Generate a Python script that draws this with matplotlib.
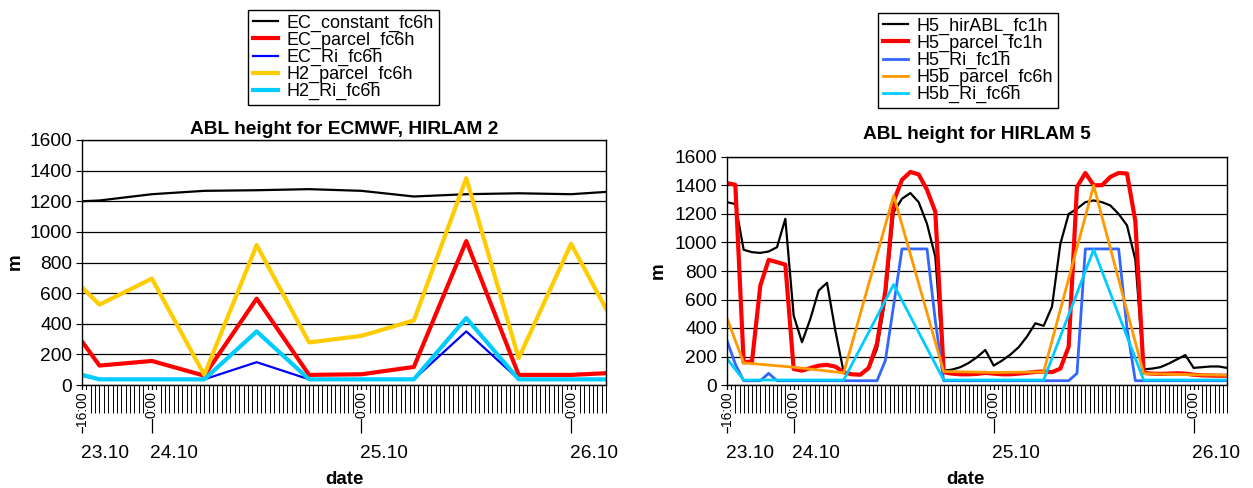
import numpy as np
import matplotlib
matplotlib.use("Agg")
import matplotlib.pyplot as plt

plt.rcParams['font.family'] = ['Liberation Sans', 'DejaVu Sans']

# time axis: hours counted from 23.10 00:00
t6 = [16, 18, 24, 30, 36, 42, 48, 54, 60, 66, 72, 76]
t1 = list(range(16, 77))
major_t = [16, 24, 48, 72]
major_lab = ['16:00', '0:00', '0:00', '0:00']
date_lab = ['23.10', '24.10', '25.10', '26.10']

# left panel: ECMWF and HIRLAM 2 (6 hourly)
ec_constant = [1200, 1205, 1246, 1268, 1272, 1279, 1268, 1231, 1246, 1252, 1246, 1261]
ec_parcel = [284, 127, 157, 61, 564, 66, 70, 118, 940, 66, 66, 77]
ec_ri = [60, 37, 37, 37, 149, 37, 37, 37, 350, 37, 37, 37]
h2_parcel = [638, 525, 695, 66, 914, 278, 321, 422, 1351, 175, 922, 498]
h2_ri = [66, 37, 37, 37, 350, 37, 37, 37, 437, 37, 37, 37]

# right panel: HIRLAM 5 (hourly) and HIRLAM 5b (6 hourly)
h5_hirabl = [1283, 1270, 949, 932, 927, 937, 967, 1166, 487, 300,
             464, 663, 717, 382, 89, 73, 73, 112, 253, 604,
             1213, 1307, 1347, 1283, 1131, 900, 100, 108, 125, 155,
             195, 246, 136, 171, 213, 265, 340, 433, 415, 550,
             990, 1200, 1237, 1283, 1295, 1283, 1260, 1200, 1120, 880,
             110, 115, 125, 150, 180, 210, 120, 125, 130, 130, 120]
h5_parcel = [1417, 1405, 159, 166, 698, 878, 862, 845, 112, 101,
             119, 136, 141, 129, 89, 75, 72, 120, 290, 660,
             1290, 1440, 1495, 1478, 1370, 1215, 90, 80, 75, 75,
             78, 85, 80, 75, 75, 80, 85, 92, 95, 90,
             115, 269, 1390, 1488, 1402, 1402, 1460, 1488, 1484, 1150,
             85, 80, 78, 80, 82, 80, 72, 68, 66, 65, 65]
h5_ri = [311, 147, 30, 30, 30, 82, 30, 30, 30, 30,
         30, 30, 30, 30, 30, 30, 30, 30, 30, 171,
         560, 955, 955, 955, 955, 450, 30, 30, 30, 30,
         30, 30, 30, 30, 30, 30, 30, 30, 30, 30,
         30, 30, 82, 955, 955, 955, 955, 955, 400, 30,
         30, 30, 30, 30, 30, 30, 30, 30, 30, 30, 30]
h5b_parcel = [468, 155, 125, 85, 1330, 95, 88, 92, 1400, 80, 72, 68]
h5b_ri = [185, 35, 35, 35, 705, 35, 35, 35, 950, 35, 35, 35]

W, H = 1253, 488
fig = plt.figure(figsize=(W / 100, H / 100), dpi=100)

def px_axes(x0, x1, y0, y1):
    # axes box given in picture pixels
    return fig.add_axes([x0 / W, 1 - y1 / H, (x1 - x0) / W, (y1 - y0) / H])

def setup(ax, title, title_pad, date_x):
    ax.set_xlim(16, 76)
    ax.set_ylim(0, 1600)
    ax.set_yticks(range(0, 1601, 200))
    ax.yaxis.grid(True, color='black', lw=0.9)
    ax.set_axisbelow(True)
    for s in ax.spines.values():
        s.set_color('black')
        s.set_linewidth(1.0)
    ax.tick_params(axis='y', length=4, labelsize=13.8, pad=3)
    ax.set_xticks(major_t)
    ax.set_xticklabels([])
    ax.set_xticks(np.arange(16, 76.01, 0.5), minor=True)
    ax.tick_params(axis='x', which='major', length=34.5, width=0.9)
    ax.tick_params(axis='x', which='minor', length=20, width=0.7)
    ax.set_title(title, fontsize=13.8, weight='bold', pad=title_pad)
    # hour labels sit on top of the long ticks
    for x, lab in zip(major_t, major_lab):
        ax.annotate(lab, xy=(x, 0), xycoords=('data', 'axes fraction'),
                    xytext=(0, -4.5), textcoords='offset points', rotation=90,
                    ha='center', va='top', fontsize=10, annotation_clip=False,
                    bbox=dict(fc='white', ec='none', pad=0.6))
    for x, lab in zip(major_t, date_lab):
        ax.annotate(lab, xy=(x, 0), xycoords=('data', 'axes fraction'),
                    xytext=(-1, -49), textcoords='offset points',
                    ha='left', va='center', fontsize=13.8, annotation_clip=False)
    ax.annotate('date', xy=(date_x, 0), xycoords='axes fraction',
                xytext=(0, -68), textcoords='offset points',
                ha='center', va='center', fontsize=13.5, weight='bold',
                annotation_clip=False)

# left chart
ax1 = px_axes(82, 606, 140, 385)
ax1.plot(t6, ec_constant, color='black', lw=1.6, label='EC_constant_fc6h')
ax1.plot(t6, ec_parcel, color='#ff0000', lw=3.0, label='EC_parcel_fc6h')
ax1.plot(t6, ec_ri, color='#0000ff', lw=1.6, label='EC_Ri_fc6h')
ax1.plot(t6, h2_parcel, color='#ffcc00', lw=3.0, label='H2_parcel_fc6h')
ax1.plot(t6, h2_ri, color='#00ccff', lw=3.0, label='H2_Ri_fc6h')
setup(ax1, 'ABL height for ECMWF, HIRLAM 2', 4, 0.5)
fig.text(15 / W, 1 - 262 / H, 'm', fontsize=13.5, weight='bold', rotation=90,
         ha='center', va='center')

# right chart
ax2 = px_axes(727, 1227, 157, 385)
ax2.plot(t1, h5_hirabl, color='black', lw=1.6, label='H5_hirABL_fc1h')
ax2.plot(t1, h5_parcel, color='#ff0000', lw=3.0, label='H5_parcel_fc1h')
ax2.plot(t1, h5_ri, color='#3366ff', lw=2.0, label='H5_Ri_fc1h')
ax2.plot(t6, h5b_parcel, color='#ff9900', lw=2.0, label='H5b_parcel_fc6h')
ax2.plot(t6, h5b_ri, color='#00ccff', lw=2.0, label='H5b_Ri_fc6h')
setup(ax2, 'ABL height for HIRLAM 5', 13, 0.476)
fig.text(658 / W, 1 - 271 / H, 'm', fontsize=13.5, weight='bold', rotation=90,
         ha='center', va='center')

for ax, x0, y0 in [(ax1, 248, 10), (ax2, 878, 13)]:
    h, l = ax.get_legend_handles_labels()
    leg = fig.legend(h, l, loc='upper left', bbox_to_anchor=(x0 / W, 1 - y0 / H),
                     fontsize=13, frameon=True, fancybox=False, framealpha=1,
                     edgecolor='black', labelspacing=0.0, handlelength=1.4,
                     handletextpad=0.5, borderpad=0.25, borderaxespad=0)
    leg.get_frame().set_linewidth(1.0)

fig.savefig('out.png', dpi=100)
